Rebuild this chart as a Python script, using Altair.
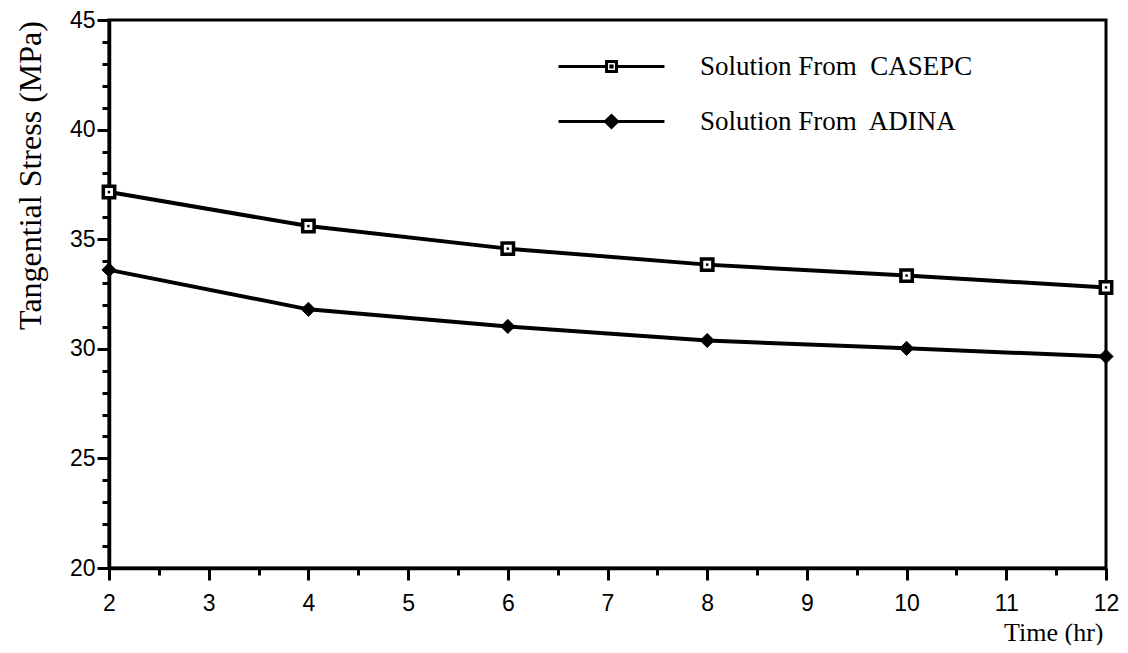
import altair as alt
import pandas as pd

# data
times = [2, 4, 6, 8, 10, 12]
casepc = [37.15, 35.6, 34.57, 33.84, 33.34, 32.8]
adina = [33.6, 31.8, 31.02, 30.38, 30.02, 29.65]
series_names = ["Solution From\u00a0 CASEPC", "Solution From\u00a0 ADINA"]
x_tick_values = [2, 2.5, 3, 3.5, 4, 4.5, 5, 5.5, 6, 6.5, 7, 7.5, 8, 8.5, 9, 9.5, 10, 10.5, 11, 11.5, 12]
y_tick_values = list(range(20, 46))

df = pd.DataFrame({
    "t": times * 2,
    "s": casepc + adina,
    "series": [series_names[0]] * len(times) + [series_names[1]] * len(times),
})

W, H = 997, 548

x_enc = alt.X("t:Q", scale=alt.Scale(domain=[2, 12], nice=False, zero=False),
              axis=alt.Axis(values=x_tick_values, title="Time (hr)",
                            labelExpr="datum.value % 1 === 0 ? toString(datum.value) : ''",
                            tickSize={"condition": {"test": "datum.value % 1 === 0", "value": 12}, "value": 7},
                            labelFont="Liberation Sans", labelFontSize=23, labelPadding=12,
                            labelFlush=False, labelOverlap=False, labelColor="black",
                            titleFont="Liberation Serif", titleFontSize=26, titleFontWeight="normal",
                            titleColor="black", titleAlign="right", titleBaseline="alphabetic",
                            titleX=994, titleY=72, titleAnchor="end",
                            grid=False, domainColor="black", domainWidth=3.5,
                            tickColor="black", tickWidth=3))
y_enc = alt.Y("s:Q", scale=alt.Scale(domain=[20, 45], nice=False, zero=False),
              axis=alt.Axis(values=y_tick_values, title="Tangential Stress (MPa)",
                            labelExpr="datum.value % 5 === 0 ? toString(datum.value) : ''",
                            tickSize={"condition": {"test": "datum.value % 5 === 0", "value": 12}, "value": 7},
                            labelFont="Liberation Sans", labelFontSize=23, labelPadding=2,
                            labelFlush=False, labelOverlap=False, labelColor="black",
                            titleFont="Liberation Serif", titleFontSize=32, titleFontWeight="normal",
                            titleColor="black", titleAngle=270, titleAlign="center",
                            titleBaseline="middle", titleX=-79, titleY=155,
                            grid=False, domainColor="black", domainWidth=3.5,
                            tickColor="black", tickWidth=3))

base = alt.Chart(df)

lines = base.mark_line(color="black", strokeWidth=4).encode(x=x_enc, y=y_enc, detail="series:N")

sq = base.transform_filter(alt.datum.series == series_names[0]).mark_point(
    shape="square", size=130, filled=True, fill="white", stroke="black", strokeWidth=3.5, opacity=1
).encode(x=x_enc, y=y_enc)
dot = base.transform_filter(alt.datum.series == series_names[0]).mark_point(
    shape="square", size=6, filled=True, fill="black", opacity=1
).encode(x=x_enc, y=y_enc)
dia = base.transform_filter(alt.datum.series == series_names[1]).mark_point(
    shape="diamond", size=200, filled=True, fill="black", stroke="black", strokeWidth=1, opacity=1
).encode(x=x_enc, y=y_enc)

path_casepc = ("M-3.53,0H-0.33M0.33,0H3.53"
               "M-0.33,-0.33H0.33V0.33H-0.33Z"
               "M-0.04,-0.04H0.04V0.04H-0.04Z")
path_adina = "M-3.53,0H-0.36M0.36,0H3.53M0,-0.4L0.4,0L0,0.4L-0.4,0Z"

leg = dict(title=None, orient="none", legendX=486, legendY=30,
           symbolSize=900, symbolStrokeWidth=3, symbolOpacity=1,
           labelFont="Liberation Serif", labelFontSize=27, labelColor="black",
           labelOffset=72, rowPadding=25, padding=0, labelLimit=600)

legend_layer = base.transform_filter("datum.t < 0").mark_point(
    filled=True, strokeWidth=3, opacity=1
).encode(
    x=x_enc, y=y_enc,
    shape=alt.Shape("series:N", scale=alt.Scale(domain=series_names, range=[path_casepc, path_adina]),
                    legend=alt.Legend(**leg)),
    fill=alt.Fill("series:N", scale=alt.Scale(domain=series_names, range=["white", "black"]),
                  legend=alt.Legend(**leg)),
    stroke=alt.Stroke("series:N", scale=alt.Scale(domain=series_names, range=["black", "black"]),
                      legend=alt.Legend(**leg)),
)

chart = alt.layer(lines, sq, dia, dot, legend_layer).properties(
    width=W, height=H,
    background="white",
    autosize=alt.AutoSizeParams(type="none"),
    padding={"left": 101, "top": 12, "right": 14, "bottom": 77},
).configure_view(stroke="black", strokeWidth=3).configure_axis(
    grid=False, domainColor="black", domainWidth=3.5, tickColor="black", tickWidth=3,
    labelOverlap=False
)

chart.save("out.html", embed_options={"renderer": "svg", "actions": False})
